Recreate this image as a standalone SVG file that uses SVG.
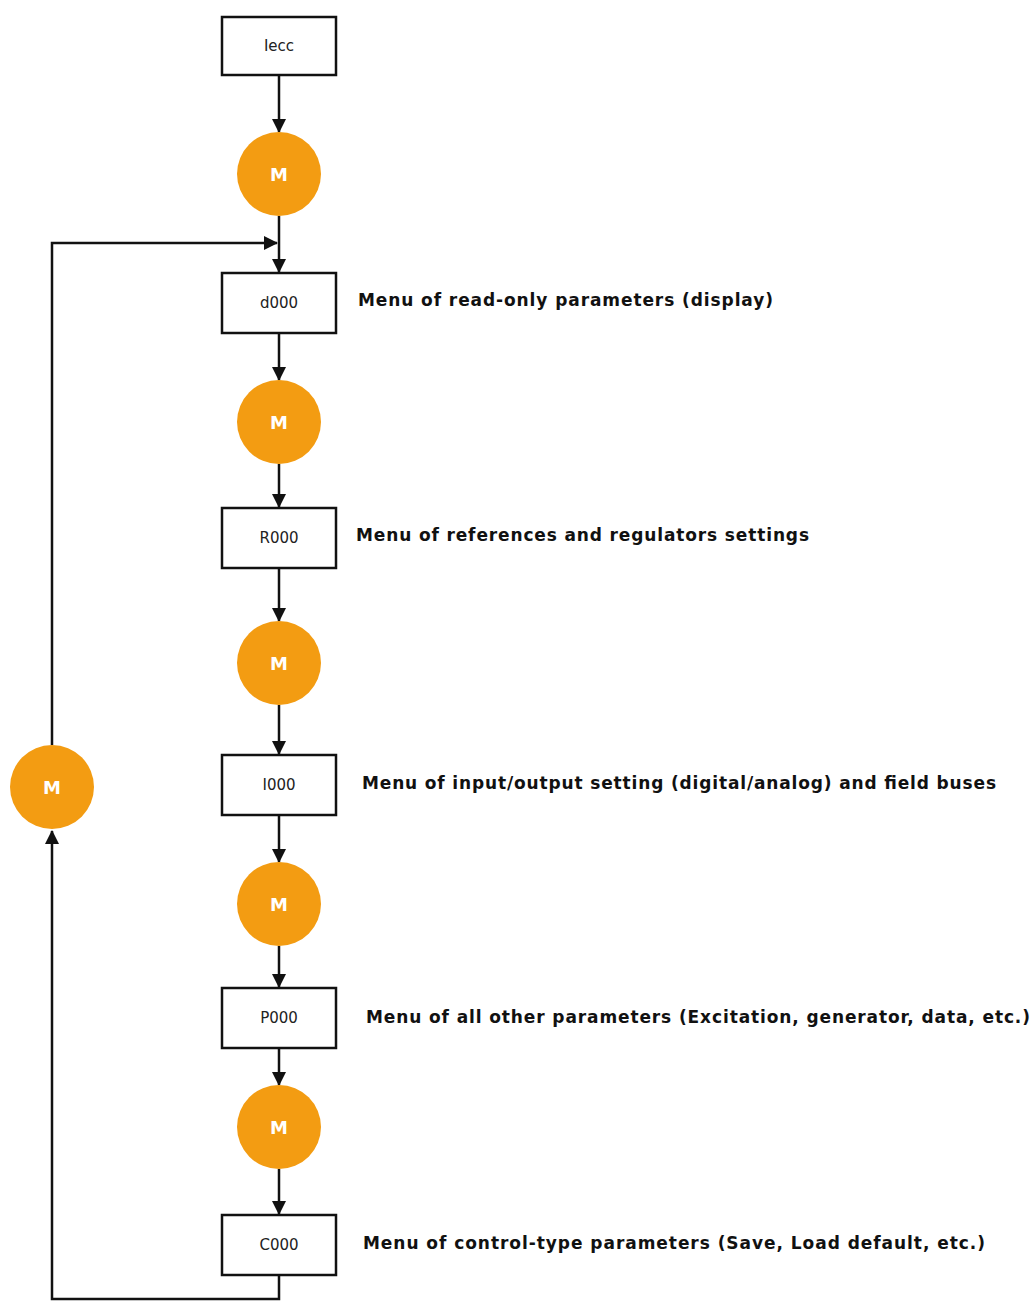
<svg xmlns="http://www.w3.org/2000/svg" width="1034" height="1301" viewBox="0 0 1034 1301">
<defs>
<marker id="ah" markerWidth="14" markerHeight="14" viewBox="0 0 14 14" refX="13" refY="7" orient="auto" markerUnits="userSpaceOnUse">
<path d="M0,0 L14,7 L0,14 Z" fill="#111"/>
</marker>
<style>
.box{fill:#fff;stroke:#111;stroke-width:2.5}
.bt{font-family:"DejaVu Sans",sans-serif;font-size:15px;fill:#222;text-anchor:middle}
.m{fill:#f39c12}
.mt{font-family:"DejaVu Sans",sans-serif;font-size:18px;fill:#fff;text-anchor:middle;font-weight:bold}
.lab{font-family:"DejaVu Sans",sans-serif;font-size:17px;fill:#111;font-weight:bold}
.c{fill:none;stroke:#111;stroke-width:2.5}
</style>
</defs>
<rect width="1034" height="1301" fill="#fff"/>
<g id="connectors">
<line class="c" x1="279" y1="75" x2="279" y2="132" marker-end="url(#ah)"/>
<line class="c" x1="279" y1="216" x2="279" y2="272" marker-end="url(#ah)"/>
<line class="c" x1="279" y1="333" x2="279" y2="380" marker-end="url(#ah)"/>
<line class="c" x1="279" y1="464" x2="279" y2="507" marker-end="url(#ah)"/>
<line class="c" x1="279" y1="568" x2="279" y2="621" marker-end="url(#ah)"/>
<line class="c" x1="279" y1="705" x2="279" y2="754" marker-end="url(#ah)"/>
<line class="c" x1="279" y1="815" x2="279" y2="862" marker-end="url(#ah)"/>
<line class="c" x1="279" y1="946" x2="279" y2="987" marker-end="url(#ah)"/>
<line class="c" x1="279" y1="1048" x2="279" y2="1085" marker-end="url(#ah)"/>
<line class="c" x1="279" y1="1169" x2="279" y2="1214" marker-end="url(#ah)"/>
<polyline class="c" points="279,1275 279,1299 52,1299 52,831" marker-end="url(#ah)"/>
<polyline class="c" points="52,745 52,243 277,243" marker-end="url(#ah)"/>
</g>
<g id="n-iecc"><rect class="box" x="222" y="17" width="114" height="58"/><text class="bt" x="279" y="51">Iecc</text></g>
<g id="n-m1"><circle class="m" cx="279" cy="174" r="42"/><text class="mt" x="279" y="181">M</text></g>
<g id="n-d000"><rect class="box" x="222" y="273" width="114" height="60"/><text class="bt" x="279" y="308">d000</text><text class="lab" x="358" y="306" textLength="415">Menu of read-only parameters (display)</text></g>
<g id="n-m2"><circle class="m" cx="279" cy="422" r="42"/><text class="mt" x="279" y="429">M</text></g>
<g id="n-r000"><rect class="box" x="222" y="508" width="114" height="60"/><text class="bt" x="279" y="543">R000</text><text class="lab" x="356" y="541" textLength="453">Menu of references and regulators settings</text></g>
<g id="n-m3"><circle class="m" cx="279" cy="663" r="42"/><text class="mt" x="279" y="670">M</text></g>
<g id="n-i000"><rect class="box" x="222" y="755" width="114" height="60"/><text class="bt" x="279" y="790">I000</text><text class="lab" x="362" y="789" textLength="634">Menu of input/output setting (digital/analog) and field buses</text></g>
<g id="n-m4"><circle class="m" cx="279" cy="904" r="42"/><text class="mt" x="279" y="911">M</text></g>
<g id="n-p000"><rect class="box" x="222" y="988" width="114" height="60"/><text class="bt" x="279" y="1023">P000</text><text class="lab" x="366" y="1023" textLength="664">Menu of all other parameters (Excitation, generator, data, etc.)</text></g>
<g id="n-m5"><circle class="m" cx="279" cy="1127" r="42"/><text class="mt" x="279" y="1134">M</text></g>
<g id="n-c000"><rect class="box" x="222" y="1215" width="114" height="60"/><text class="bt" x="279" y="1250">C000</text><text class="lab" x="363" y="1249" textLength="622">Menu of control-type parameters (Save, Load default, etc.)</text></g>
<g id="n-mleft"><circle class="m" cx="52" cy="787" r="42"/><text class="mt" x="52" y="794">M</text></g>
</svg>
